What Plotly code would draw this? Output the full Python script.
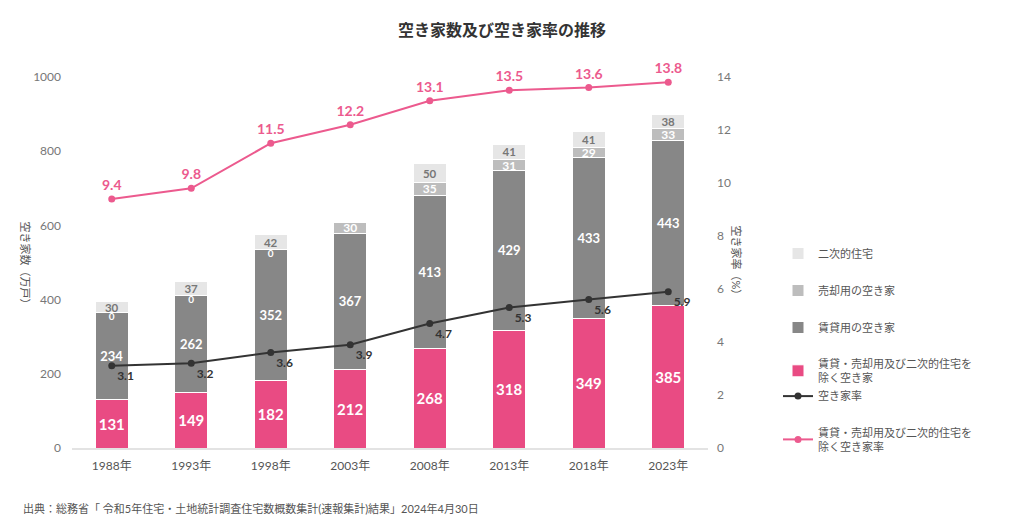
import plotly.graph_objects as go

years = ["1988年", "1993年", "1998年", "2003年", "2008年", "2013年", "2018年", "2023年"]
other_vacant = [131, 149, 182, 212, 268, 318, 349, 385]
rental = [234, 262, 352, 367, 413, 429, 433, 443]
for_sale = [0, 0, 0, 30, 35, 31, 29, 33]
secondary = [30, 37, 42, None, 50, 41, 41, 38]
vacancy_rate = [9.4, 9.8, 11.5, 12.2, 13.1, 13.5, 13.6, 13.8]
other_rate = [3.1, 3.2, 3.6, 3.9, 4.7, 5.3, 5.6, 5.9]

left_ticks = [0, 200, 400, 600, 800, 1000]
right_ticks = [0, 2, 4, 6, 8, 10, 12, 14]

PINK = "#E94B83"
PINK_LINE = "#EC5A8E"
DARK = "#878787"
MID = "#BDBDBD"
LIGHT = "#E6E6E6"
FONT = "Lato, Noto Sans CJK JP, sans-serif"

W, H = 1024, 527
OFF = 8  # page body margin
PL, PR, PT, PB = 72 - OFF, 708 - OFF, 77 - OFF, 448 - OFF
PW, PH = PR - PL, PB - PT


def px_x(x):
    return (x - OFF - PL) / PW


def px_y(y):
    return (PB - (y - OFF)) / PH


fig = go.Figure()

bar_line = dict(color="white", width=1)
common_bar = dict(textposition="inside", insidetextanchor="middle", textangle=0,
                  constraintext="none", hoverinfo="x+y")

fig.add_trace(go.Bar(
    x=years, y=other_vacant, name="賃貸・売却用及び二次的住宅を<br>除く空き家",
    marker=dict(color=PINK, line=bar_line),
    text=[str(v) for v in other_vacant],
    textfont=dict(color="white", size=15, family=FONT, weight="bold"),
    legendgroup="g4", legendrank=4, **common_bar,
))
fig.add_trace(go.Bar(
    x=years, y=rental, name="賃貸用の空き家",
    marker=dict(color=DARK, line=bar_line),
    text=[str(v) for v in rental],
    textfont=dict(color="white", size=13, family=FONT, weight="bold"),
    legendgroup="g3", legendrank=3, **common_bar,
))
fig.add_trace(go.Bar(
    x=years, y=for_sale, name="売却用の空き家",
    marker=dict(color=MID, line=bar_line),
    text=[str(v) if v else "" for v in for_sale],
    textfont=dict(color="white", size=12, family=FONT, weight="bold"),
    legendgroup="g2", legendrank=2, **common_bar,
))
fig.add_trace(go.Bar(
    x=years, y=secondary, name="二次的住宅",
    marker=dict(color=LIGHT, line=bar_line),
    text=[str(v) if v else "" for v in secondary],
    textfont=dict(color="#777777", size=11.5, family=FONT, weight="bold"),
    legendgroup="g1", legendrank=1, **common_bar,
))

# "0" labels for zero-height 売却用 segments
zx = [y for y, v in zip(years, for_sale) if v == 0]
zy = [o + r for o, r, v in zip(other_vacant, rental, for_sale) if v == 0]
fig.add_trace(go.Scatter(
    x=zx, y=zy, mode="text", text=["0"] * len(zx), textposition="bottom center",
    textfont=dict(color="white", size=10, family=FONT, weight="bold"),
    showlegend=False, hoverinfo="skip", cliponaxis=False,
))

fig.add_trace(go.Scatter(
    x=years, y=other_rate, name="空き家率", yaxis="y2",
    mode="lines+markers+text", line=dict(color="#333333", width=2),
    marker=dict(color="#333333", size=7),
    text=[f"{v:.1f}" for v in other_rate], textposition="bottom right",
    textfont=dict(color="#333333", size=12, family=FONT, weight="bold"),
    legendgroup="g4", legendrank=5, cliponaxis=False,
))
fig.add_trace(go.Scatter(
    x=years, y=vacancy_rate, name="賃貸・売却用及び二次的住宅を<br>除く空き家率", yaxis="y2",
    mode="lines+markers+text", line=dict(color=PINK_LINE, width=2),
    marker=dict(color=PINK_LINE, size=7),
    text=[f"{v:.1f}" for v in vacancy_rate], textposition="top center",
    textfont=dict(color=PINK_LINE, size=14, family=FONT, weight="bold"),
    legendgroup="g6", legendrank=6, cliponaxis=False,
))

fig.update_layout(
    width=W, height=H,
    margin=dict(l=PL, r=W - PR, t=PT, b=H - PB, autoexpand=False),
    paper_bgcolor="white", plot_bgcolor="white",
    barmode="stack", bargap=0.585,
    font=dict(family=FONT, color="#666666", size=12),
    title=dict(text="<b>空き家数及び空き家率の推移</b>", x=(502 - OFF) / W, xanchor="center",
               y=1 - (30 - OFF) / H, yanchor="middle",
               font=dict(size=16, color="#333333", family=FONT)),
    xaxis=dict(showline=True, linecolor="#E3E3E3", linewidth=2, ticks="",
               tickfont=dict(size=12, color="#555555"), showgrid=False,
               ticklabelstandoff=6),
    yaxis=dict(range=[0, 1000], tickvals=left_ticks, showgrid=False, zeroline=False,
               tickfont=dict(size=12, color="#777777"), ticklabelstandoff=10),
    yaxis2=dict(range=[0, 14], tickvals=right_ticks, overlaying="y", side="right",
                showgrid=False, zeroline=False,
                tickfont=dict(size=12, color="#777777"), ticklabelstandoff=8),
    legend=dict(x=px_x(778), xanchor="left", y=px_y(239), yanchor="top",
                traceorder="grouped", tracegroupgap=18,
                font=dict(size=11, color="#555555", family=FONT),
                itemwidth=30, bgcolor="rgba(0,0,0,0)"),
    showlegend=True,
    annotations=[
        dict(text="空き家数（万戸）", xref="paper", yref="paper",
             x=px_x(17), y=px_y(265), showarrow=False, textangle=90,
             font=dict(size=11, color="#555555")),
        dict(text="空き家率（%）", xref="paper", yref="paper",
             x=px_x(745), y=px_y(263), showarrow=False, textangle=90,
             font=dict(size=11, color="#555555")),
        dict(text="出典：総務省「 令和5年住宅・土地統計調査住宅数概数集計(速報集計)結果」2024年4月30日",
             xref="paper", yref="paper", x=px_x(21), xanchor="left",
             y=px_y(508), yanchor="middle", showarrow=False,
             font=dict(size=11, color="#555555")),
    ],
)

fig.write_html("out.html")
